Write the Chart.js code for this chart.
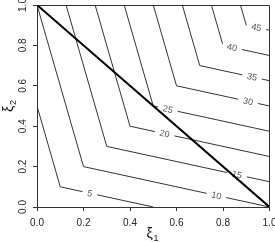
<!DOCTYPE html>
<html><head><meta charset="utf-8">
<script src="https://cdn.jsdelivr.net/npm/chart.js@4"></script>
<style>html,body{margin:0;padding:0;background:#fff}canvas{display:block}</style>
</head><body>
<canvas id="c" width="275" height="242"></canvas>
<script>
// contour levels and their polylines
const levels = [5, 10, 15, 20, 25, 30, 35, 40, 45];
const contourX = [[0, 0.1, 0.5], [0, 0.2, 1], [0.125, 0.3, 1], [0.25, 0.4, 1], [0.375, 0.5, 1], [0.5, 0.6, 1], [0.625, 0.7, 1], [0.75, 0.8, 1], [0.875, 0.9, 1]];
const contourY = [[0.5, 0.1, 0], [1, 0.2, 0], [1, 0.3, 0.125], [1, 0.4, 0.25], [1, 0.5, 0.375], [1, 0.6, 0.5], [1, 0.7, 0.625], [1, 0.8, 0.75], [1, 0.9, 0.875]];
// contour label positions
const labelX = [0.227, 0.772, 0.86, 0.549, 0.563, 0.908, 0.925, 0.839, 0.944];
const labelY = [0.068, 0.057, 0.16, 0.363, 0.484, 0.523, 0.644, 0.79, 0.889];
// constraint line
const diagX = [0, 1];
const diagY = [1, 0];
// ticks
const tickValues = [0, 0.2, 0.4, 0.6, 0.8, 1.0];
const tickLabels = ['0.0', '0.2', '0.4', '0.6', '0.8', '1.0'];

const datasets = [{
  data: diagX.map((x, i) => ({x: x, y: diagY[i]})),
  showLine: true, borderColor: '#000', borderWidth: 2, pointRadius: 0, fill: false
}];
levels.forEach((lv, k) => {
  datasets.push({
    label: String(lv),
    data: contourX[k].map((x, i) => ({x: x, y: contourY[k][i]})),
    showLine: true, borderColor: '#333', borderWidth: 1, pointRadius: 0, fill: false
  });
});

const FONT = '"Liberation Sans", Arial, sans-serif';

const labelPlugin = {
  id: 'contourLabels',
  afterDatasetDraw(chart, args) {
    if (args.index !== 1) return;
    const ctx = chart.ctx, xs = chart.scales.x, ys = chart.scales.y;
    ctx.save();
    ctx.font = '9px ' + FONT;
    ctx.textAlign = 'center';
    ctx.textBaseline = 'middle';
    levels.forEach((lv, k) => {
      const px = xs.getPixelForValue(labelX[k]);
      const py = ys.getPixelForValue(labelY[k]);
      const ax = xs.getPixelForValue(contourX[k][1]), ay = ys.getPixelForValue(contourY[k][1]);
      const bx = xs.getPixelForValue(contourX[k][2]), by = ys.getPixelForValue(contourY[k][2]);
      const ang = Math.atan2(by - ay, bx - ax);
      const t = String(lv);
      const w = ctx.measureText(t).width;
      ctx.save();
      ctx.translate(px, py);
      ctx.rotate(ang);
      ctx.fillStyle = '#fff';
      ctx.fillRect(-w / 2 - 5, -4, w + 10, 8);
      ctx.fillStyle = '#5a5a5a';
      ctx.fillText(t, 0, 0.5);
      ctx.restore();
    });
    ctx.restore();
  }
};

const framePlugin = {
  id: 'frame',
  afterDraw(chart) {
    const ctx = chart.ctx, a = chart.chartArea;
    ctx.save();
    ctx.strokeStyle = '#333';
    ctx.lineWidth = 1;
    const l = Math.round(a.left) + 0.5, r = Math.round(a.right) - 0.5;
    const t = Math.round(a.top) + 0.5, b = Math.round(a.bottom) - 0.5;
    ctx.beginPath();
    ctx.moveTo(l, t); ctx.lineTo(r, t); ctx.lineTo(r, b);
    ctx.stroke();
    // axis titles
    ctx.fillStyle = '#111';
    ctx.textAlign = 'left';
    ctx.textBaseline = 'alphabetic';
    ctx.font = '14px ' + FONT;
    ctx.fillText('ξ', 146.5, 238);
    ctx.font = '9px ' + FONT;
    ctx.fillText('1', 153.5, 241);
    ctx.translate(13, 112);
    ctx.rotate(-Math.PI / 2);
    ctx.font = '14px ' + FONT;
    ctx.fillText('ξ', 0, 0);
    ctx.font = '9px ' + FONT;
    ctx.fillText('2', 7, 3);
    ctx.restore();
  }
};

new Chart(document.getElementById('c'), {
  type: 'scatter',
  data: {datasets: datasets},
  options: {
    responsive: false,
    animation: false,
    devicePixelRatio: 1,
    layout: {padding: {top: 5, right: 5.5, left: 0, bottom: 0}},
    plugins: {legend: {display: false}, tooltip: {enabled: false}},
    scales: {
      x: {
        type: 'linear', min: 0, max: 1,
        afterBuildTicks: s => { s.ticks = tickValues.map(v => ({value: v})); },
        afterFit: s => { s.height = 35; s.paddingLeft = 0; s.paddingRight = 0; },
        ticks: {callback: (v, i) => tickLabels[i], font: {family: FONT, size: 10}, color: '#222', padding: 6.5, maxRotation: 0, autoSkip: false},
        grid: {drawOnChartArea: false, drawTicks: true, tickLength: 4, color: '#333'},
        border: {display: true, color: '#333', width: 1}
      },
      y: {
        type: 'linear', min: 0, max: 1,
        afterBuildTicks: s => { s.ticks = tickValues.map(v => ({value: v})); },
        afterFit: s => { s.width = 37; s.paddingTop = 0; s.paddingBottom = 0; },
        ticks: {callback: (v, i) => tickLabels[i], font: {family: FONT, size: 10}, color: '#222', padding: 3, minRotation: 90, maxRotation: 90, crossAlign: 'center', autoSkip: false},
        grid: {drawOnChartArea: false, drawTicks: true, tickLength: 4, color: '#333'},
        border: {display: true, color: '#333', width: 1}
      }
    }
  },
  plugins: [labelPlugin, framePlugin]
});
</script>
</body></html>
